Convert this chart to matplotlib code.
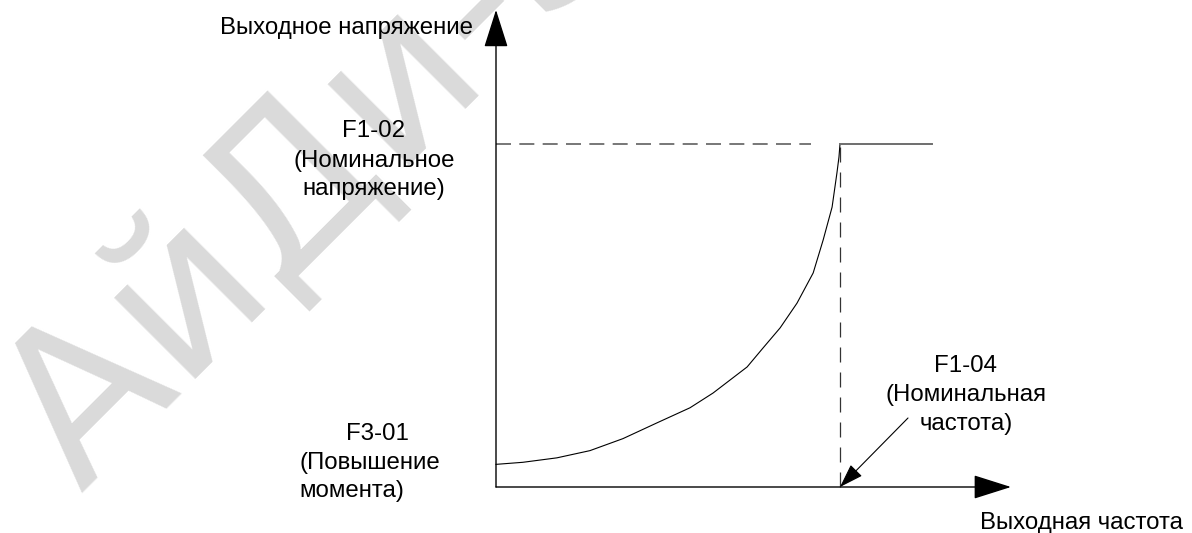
import matplotlib
matplotlib.use('Agg')
import matplotlib.pyplot as plt

plt.rcParams['font.family'] = ['Liberation Sans', 'DejaVu Sans']
plt.rcParams['lines.scale_dashes'] = False
FONTSIZE = 17.3

# V/f curve (share of rated frequency / rated voltage)
freq = [0.0, 0.078, 0.177, 0.273, 0.369, 0.468, 0.564, 0.631, 0.730, 0.776,
        0.826, 0.875, 0.922, 0.951, 0.977, 0.991, 0.997, 1.0]
volt = [0.066, 0.072, 0.085, 0.106, 0.141, 0.187, 0.231, 0.274, 0.350, 0.405,
        0.464, 0.536, 0.624, 0.720, 0.816, 0.915, 0.962, 1.0]
# constant voltage above rated frequency
flat_freq = [1.0, 1.267]
flat_volt = [1.0, 1.0]
rated_freq = 1.0
rated_volt = 1.0

fig = plt.figure(figsize=(11.92, 5.33), dpi=100)
ax = fig.add_axes([0, 0, 1, 1])
ax.set_xlim(-496 / 344, (1192 - 496) / 344)
ax.set_ylim(-(533 - 487) / 343, 487 / 343)
ax.axis('off')

# watermark (behind everything)
ax.text(80 / 1192, 1 - 493 / 533, 'АйДи-Электро', transform=fig.transFigure,
        family='DejaVu Sans', fontsize=152, color='#dadada',
        rotation=45, rotation_mode='anchor', ha='left', va='baseline', zorder=0)

# axes with arrows
axis_style = dict(arrowstyle='-|>,head_length=1.2,head_width=0.38', mutation_scale=20,
                  lw=1.0, color='black', shrinkA=0, shrinkB=0)
ax.annotate('', xy=(1.497, 0), xytext=(0, 0), arrowprops=axis_style, zorder=3)
ax.annotate('', xy=(0, 1.391), xytext=(0, 0), arrowprops=axis_style, zorder=3)

# guides
ax.plot([0, 0.916], [rated_volt, rated_volt], color='#777777', lw=1.4,
        dashes=(10.8, 6.0), zorder=2)
ax.plot([rated_freq, rated_freq], [0, 0.99], color='#333333', lw=0.9,
        dashes=(10.8, 7.2), zorder=2)

# curve
ax.plot(freq, volt, color='black', lw=0.8, solid_joinstyle='round', zorder=4)
ax.plot(flat_freq, flat_volt, color='#6e6e6e', lw=1.4, zorder=4)

# labels
def px(x, y):
    return (x - 496) / 344, (487 - y) / 343

ax.text(*px(473, 34), 'Выходное напряжение', ha='right', va='baseline', fontsize=FONTSIZE)
for txt, y in [('F1-02', 137), ('(Номинальное', 166.5), ('напряжение)', 195)]:
    ax.text(*px(374, y), txt, ha='center', va='baseline', fontsize=FONTSIZE)
ax.text(*px(346, 440), 'F3-01', ha='left', va='baseline', fontsize=FONTSIZE)
ax.text(*px(299.5, 469), '(Повышение', ha='left', va='baseline', fontsize=FONTSIZE)
ax.text(*px(299.5, 497), 'момента)', ha='left', va='baseline', fontsize=FONTSIZE)
for txt, y in [('F1-04', 371.5), ('(Номинальная', 401.5), ('частота)', 430)]:
    ax.text(*px(966, y), txt, ha='center', va='baseline', fontsize=FONTSIZE)
ax.text(*px(1183, 529), 'Выходная частота', ha='right', va='baseline', fontsize=FONTSIZE)

ax.annotate('', xy=(rated_freq, 0), xytext=px(908, 418),
            arrowprops=dict(arrowstyle='-|>,head_length=0.75,head_width=0.25',
                            mutation_scale=20, lw=0.8, color='black',
                            shrinkA=0, shrinkB=0), zorder=5)

fig.savefig('out.png', dpi=100)
